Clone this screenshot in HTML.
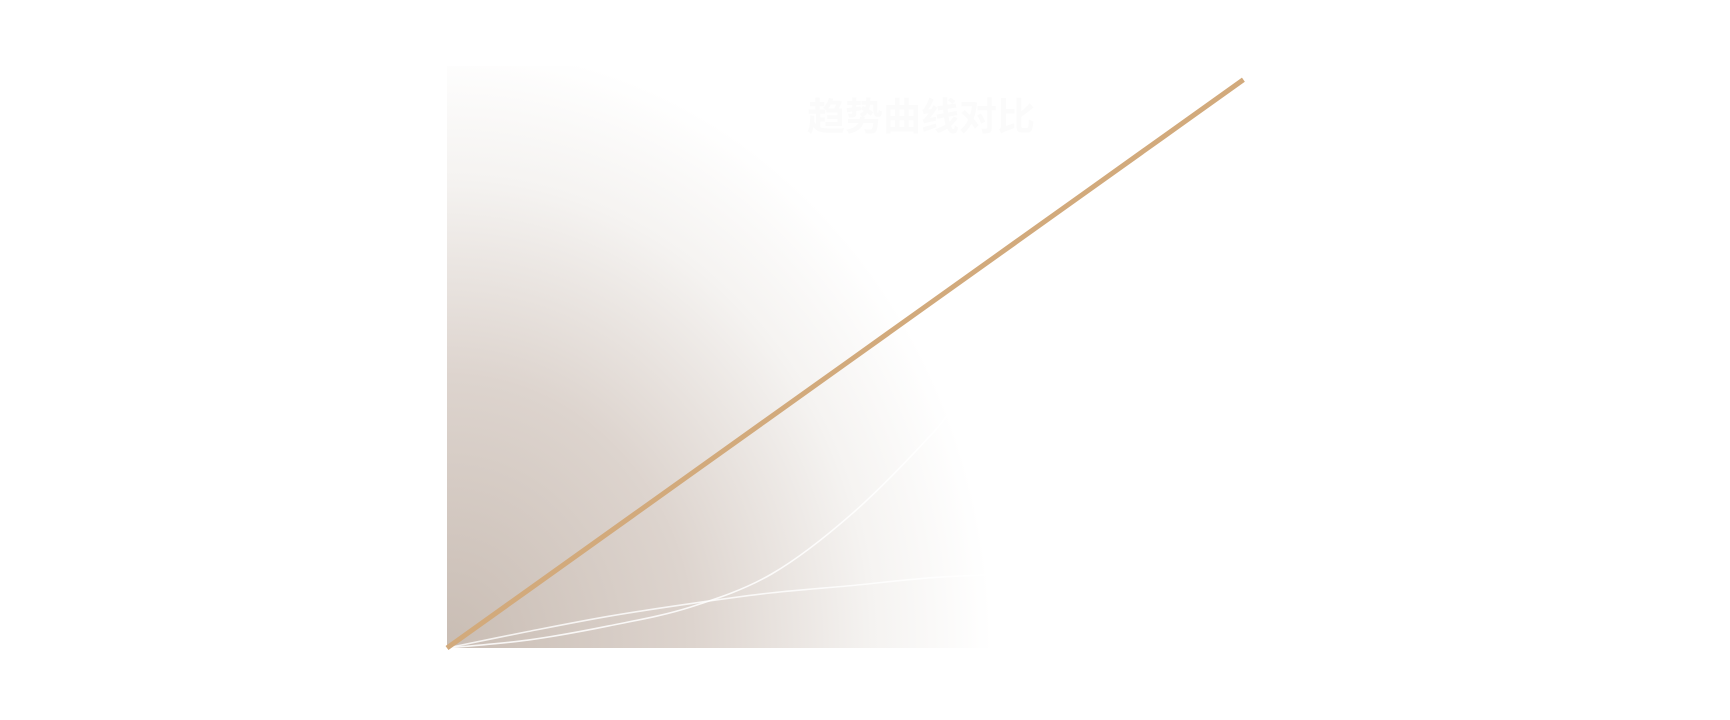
<!DOCTYPE html>
<html><head><meta charset="utf-8">
<style>
html,body{margin:0;padding:0;background:#fff;width:1730px;height:720px;overflow:hidden}
svg{display:block}
</style></head>
<body>
<svg id="chart" width="1730" height="720" xmlns="http://www.w3.org/2000/svg">
<defs>
<radialGradient id="bg" gradientUnits="userSpaceOnUse" cx="447" cy="648" r="574" gradientTransform="translate(447 648) scale(0.95 1.05) translate(-447 -648)">
<stop offset="0" stop-color="#c9bdb4"/>
<stop offset="0.45" stop-color="#ddd4ce"/>
<stop offset="0.78" stop-color="#f5f3f1"/>
<stop offset="1" stop-color="#ffffff"/>
</radialGradient>
</defs>
<rect x="447" y="66" width="811" height="582" fill="url(#bg)"/>
<text x="921" y="130" text-anchor="middle" font-family="'Liberation Sans','Noto Sans CJK SC',sans-serif" font-size="38" font-weight="bold" fill="#fbfbfb">趋势曲线对比</text>
<g id="marks"></g>
</svg>
<script>
const categories=[0,1,2,3,4,5,6,7,8,9,10];
const orangeValues=[0,10,20,30,40,50,60,70,80,90,100];
const sCurveValues=[0,1.4,3.9,7.2,13,23.7,38,54.6,52,48,47];
const flatCurveValues=[0,2.9,5.6,7.8,9.7,11,12.4,13,13.4,12.6,8.2];
const orangeMaxX=9.82;
function xScale(v){return 447+v*81.1;}
function yScale(v){return 648-v*5.683;}
const g=document.getElementById('marks');
const NS='http://www.w3.org/2000/svg';
function smoothPath(xs,ys){
  const p=xs.map((x,i)=>[xScale(x),yScale(ys[i])]);
  let d='M'+p[0][0]+','+p[0][1];
  for(let i=0;i<p.length-1;i++){
    const p0=p[Math.max(0,i-1)],p1=p[i],p2=p[i+1],p3=p[Math.min(p.length-1,i+2)];
    const c1=[p1[0]+(p2[0]-p0[0])/6,p1[1]+(p2[1]-p0[1])/6];
    const c2=[p2[0]-(p3[0]-p1[0])/6,p2[1]-(p3[1]-p1[1])/6];
    d+=' C'+c1[0]+','+c1[1]+' '+c2[0]+','+c2[1]+' '+p2[0]+','+p2[1];
  }
  return d;
}
const s1=document.createElementNS(NS,'path');
s1.setAttribute('d',smoothPath(categories,sCurveValues));
s1.setAttribute('fill','none');s1.setAttribute('stroke','#ffffff');s1.setAttribute('stroke-width','1.6');s1.setAttribute('stroke-opacity','0.85');


g.appendChild(s1);
const s2=document.createElementNS(NS,'path');
s2.setAttribute('d',smoothPath(categories,flatCurveValues));
s2.setAttribute('fill','none');s2.setAttribute('stroke','#ffffff');s2.setAttribute('stroke-width','1.6');s2.setAttribute('stroke-opacity','0.8');


g.appendChild(s2);
const ox=categories.map(c=>c*orangeMaxX/10);
const o=document.createElementNS(NS,'polyline');
o.setAttribute('points',ox.map((x,i)=>xScale(x)+','+yScale(orangeValues[i])).join(' '));
o.setAttribute('fill','none');o.setAttribute('stroke','#d2aa7c');o.setAttribute('stroke-width','5');


g.appendChild(o);
</script>
</body></html>
